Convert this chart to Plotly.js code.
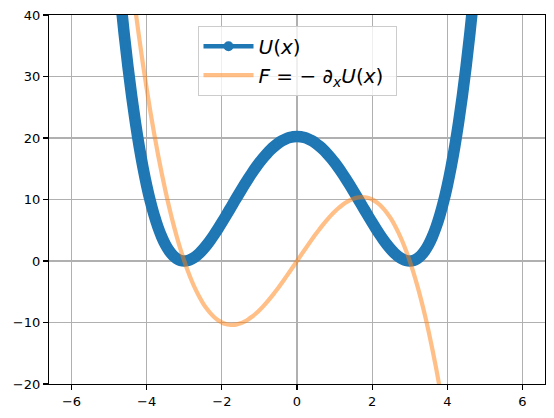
<!DOCTYPE html>
<html>
<head>
<meta charset="utf-8">
<script src="https://cdn.plot.ly/plotly-3.0.1.min.js"></script>
<style>html,body{margin:0;padding:0;background:#fff;}#chart{width:554px;height:418px;}</style>
</head>
<body>
<div id="chart"></div>
<script>
// Potential U(x) sampled along the curve
const xU = [-4.8,-4.7,-4.6,-4.5,-4.4,-4.3,-4.2,-4.1,-4.0,-3.9,-3.8,-3.7,-3.6,-3.5,-3.4,-3.3,-3.2,-3.1,-3.0,-2.9,-2.8,-2.7,-2.6,-2.5,-2.4,-2.3,-2.2,-2.1,-2.0,-1.9,-1.8,-1.7,-1.6,-1.5,-1.4,-1.3,-1.2,-1.1,-1.0,-0.9,-0.8,-0.7,-0.6,-0.5,-0.4,-0.3,-0.2,-0.1,0.0,0.1,0.2,0.3,0.4,0.5,0.6,0.7,0.8,0.9,1.0,1.1,1.2,1.3,1.4,1.5,1.6,1.7,1.8,1.9,2.0,2.1,2.2,2.3,2.4,2.5,2.6,2.7,2.8,2.9,3.0,3.1,3.2,3.3,3.4,3.5,3.6,3.7,3.8,3.9,4.0,4.1,4.2,4.3,4.4,4.5,4.6,4.7,4.8];
const U = [49.28,42.84,36.97,31.64,26.83,22.52,18.66,15.25,12.25,9.64,7.40,5.50,3.92,2.64,1.64,0.89,0.38,0.09,0.00,0.09,0.34,0.73,1.25,1.89,2.62,3.44,4.33,5.27,6.25,7.26,8.29,9.33,10.37,11.39,12.39,13.36,14.29,15.17,16.00,16.77,17.47,18.11,18.66,19.14,19.54,19.85,20.07,20.21,20.25,20.21,20.07,19.85,19.54,19.14,18.66,18.11,17.47,16.77,16.00,15.17,14.29,13.36,12.39,11.39,10.37,9.33,8.29,7.26,6.25,5.27,4.33,3.44,2.62,1.89,1.25,0.73,0.34,0.09,0.00,0.09,0.38,0.89,1.64,2.64,3.92,5.50,7.40,9.64,12.25,15.25,18.66,22.52,26.83,31.64,36.97,42.84,49.28];
// Force F(x)
const xF = [-4.4,-4.3,-4.2,-4.1,-4.0,-3.9,-3.8,-3.7,-3.6,-3.5,-3.4,-3.3,-3.2,-3.1,-3.0,-2.9,-2.8,-2.7,-2.6,-2.5,-2.4,-2.3,-2.2,-2.1,-2.0,-1.9,-1.8,-1.7,-1.6,-1.5,-1.4,-1.3,-1.2,-1.1,-1.0,-0.9,-0.8,-0.7,-0.6,-0.5,-0.4,-0.3,-0.2,-0.1,0.0,0.1,0.2,0.3,0.4,0.5,0.6,0.7,0.8,0.9,1.0,1.1,1.2,1.3,1.4,1.5,1.6,1.7,1.8,1.9,2.0,2.1,2.2,2.3,2.4,2.5,2.6,2.7,2.8,2.9,3.0,3.1,3.2,3.3,3.4,3.5,3.6,3.7,3.8,3.9];
const F = [45.58,40.81,36.29,32.02,28.00,24.22,20.67,17.35,14.26,11.38,8.70,6.24,3.97,1.89,0.00,-1.71,-3.25,-4.62,-5.82,-6.88,-7.78,-8.53,-9.15,-9.64,-10.00,-10.24,-10.37,-10.39,-10.30,-10.13,-9.86,-9.50,-9.07,-8.57,-8.00,-7.37,-6.69,-5.96,-5.18,-4.38,-3.54,-2.67,-1.79,-0.90,0.00,0.90,1.79,2.67,3.54,4.38,5.18,5.96,6.69,7.37,8.00,8.57,9.07,9.50,9.86,10.13,10.30,10.39,10.37,10.24,10.00,9.64,9.15,8.53,7.78,6.88,5.82,4.62,3.25,1.71,0.00,-1.89,-3.97,-6.24,-8.70,-11.38,-14.26,-17.35,-20.67,-24.22];
const xTicks = [-6,-4,-2,0,2,4,6];
const yTicks = [-20,-10,0,10,20,30,40];
const names = ['<i>U</i>(<i>x</i>)', '<i>F</i> = − ∂<sub><i>x</i></sub><i>U</i>(<i>x</i>) '];

const blue = '#1f77b4';
const traces = [
  // dense marker band of U(x)
  {x: xU, y: U, type: 'scatter', mode: 'lines', line: {color: blue, width: 11.5, shape: 'spline', smoothing: 1}, showlegend: false, hoverinfo: 'skip'},
  // U(x) line with markers (markers lie inside the band)
  {x: xU, y: U, type: 'scatter', mode: 'lines+markers', name: names[0], line: {color: blue, width: 4.5, shape: 'spline', smoothing: 1}, marker: {color: blue, size: 10}, cliponaxis: true},
  {x: xF, y: F, type: 'scatter', mode: 'lines', name: names[1], line: {color: 'rgba(255,127,14,0.5)', width: 4.2, shape: 'spline', smoothing: 1}}
];
const axisCommon = {
  showline: true, mirror: true, linecolor: '#000', linewidth: 1.1,
  showgrid: true, gridcolor: '#b0b0b0', gridwidth: 1.1,
  zeroline: false, ticks: 'outside', ticklen: 5, tickwidth: 1.1, tickcolor: '#000',
  tickfont: {family: 'DejaVu Sans', size: 13, color: '#000'}, fixedrange: true
};
const layout = {
  width: 554, height: 418,
  margin: {l: 49, r: 9, t: 15, b: 34, pad: 0},
  paper_bgcolor: '#fff', plot_bgcolor: '#fff',
  font: {family: 'DejaVu Sans', color: '#000'},
  xaxis: Object.assign({}, axisCommon, {range: [-6.6, 6.6], tickmode: 'array', tickvals: xTicks}),
  yaxis: Object.assign({}, axisCommon, {range: [-20, 40], tickmode: 'array', tickvals: yTicks}),
  legend: {x: 0.5, xanchor: 'center', y: 0.971, yanchor: 'top', bgcolor: 'rgba(255,255,255,0.8)',
           bordercolor: '#cccccc', borderwidth: 1, itemwidth: 50,
           font: {family: 'DejaVu Sans', size: 20, color: '#000'}},
  hovermode: false
};
Plotly.newPlot('chart', traces, layout, {displayModeBar: false, staticPlot: true});
</script>
</body>
</html>
